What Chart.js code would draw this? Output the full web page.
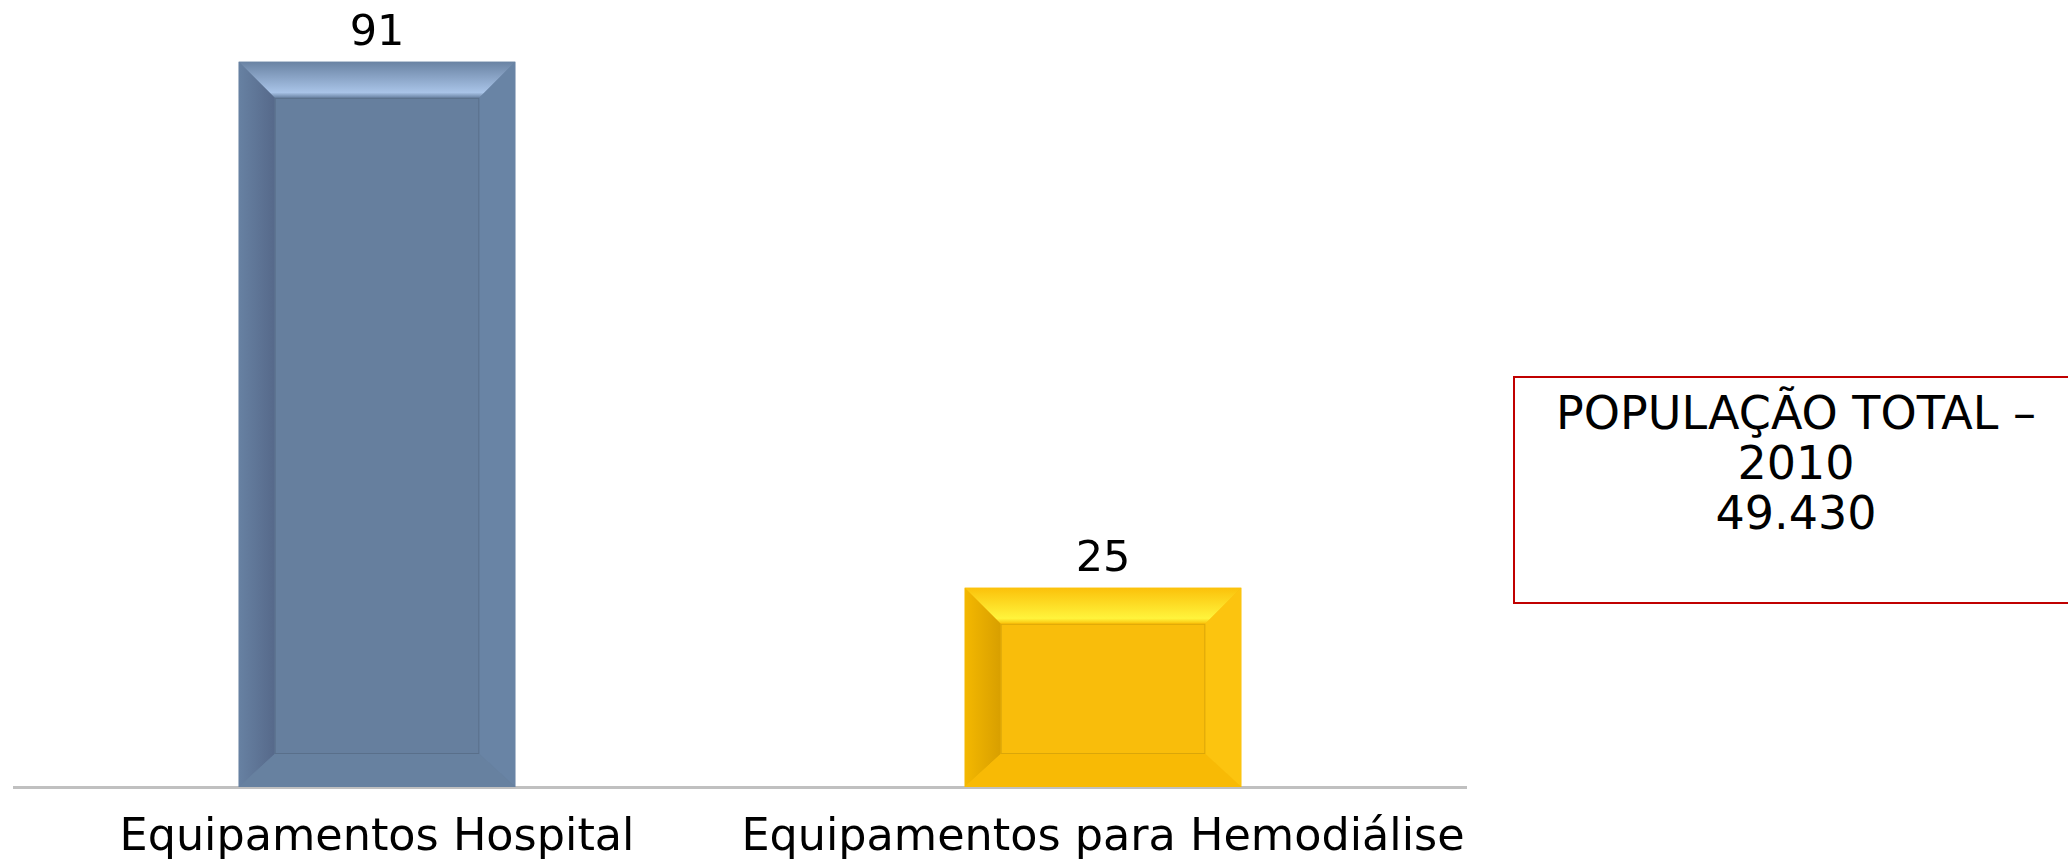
<!DOCTYPE html>
<html>
<head>
<meta charset="utf-8">
<script src="https://cdn.jsdelivr.net/npm/chart.js@4/dist/chart.umd.min.js"></script>
<style>
html, body { margin:0; padding:0; background:#fff; width:2068px; height:860px; overflow:hidden; }
#grafico { position:absolute; left:0; top:0; width:1480px; height:860px; }
#caixa {
	position:absolute; left:1513px; top:376px; width:560px; height:228px;
	border:2px solid #c00000; box-sizing:border-box;
	font-family:"DejaVu Sans", sans-serif; font-size:46px; line-height:50px;
	text-align:center; padding-top:10px; padding-left:6px; color:#000;
}
</style>
</head>
<body>
<div id="grafico"><canvas id="barras"></canvas></div>
<div id="caixa"></div>
<script>
// dados do grafico
var categorias = ["Equipamentos Hospital", "Equipamentos para Hemodiálise"];
var valores = [91, 25];
var textoCaixa = ["POPULAÇÃO TOTAL –", "2010", "49.430"];

// cores: base, topo claro, esquerda, direita, baixo
var paletas = [
	{ base:"#667f9e", topoA:"#6a83a3", topoB:"#a9c4e8", esq:"#56698a", esqB:"#6781a2", dir:"#6984a5", baixo:"#6781a0" },
	{ base:"#f9bd0b", topoA:"#fbc10a", topoB:"#fff43c", esq:"#d89f00", esqB:"#f4b800", dir:"#fcc40f", baixo:"#f8ba05" }
];

document.getElementById("caixa").innerHTML = textoCaixa.join("<br>");

var bisel = {
	id: "bisel",
	afterDatasetsDraw: function(chart){
		var ctx = chart.ctx;
		var meta = chart.getDatasetMeta(0);
		meta.data.forEach(function(bar, i){
			var p = paletas[i];
			var l = bar.x - bar.width/2, r = bar.x + bar.width/2;
			var t = bar.y, b = bar.base;
			var e = 36, eb = 33;
			var il = l + e, ir = r - e, it = t + e, ib = b - eb;
			ctx.save();
			// topo
			var g = ctx.createLinearGradient(0, t, 0, it);
			g.addColorStop(0, p.topoA); g.addColorStop(0.85, p.topoB); g.addColorStop(1, p.topoA);
			ctx.fillStyle = g;
			ctx.beginPath(); ctx.moveTo(l,t); ctx.lineTo(r,t); ctx.lineTo(ir,it); ctx.lineTo(il,it); ctx.closePath(); ctx.fill();
			// esquerda
			var g2 = ctx.createLinearGradient(l, 0, il, 0);
			g2.addColorStop(0, p.esqB); g2.addColorStop(1, p.esq);
			ctx.fillStyle = g2;
			ctx.beginPath(); ctx.moveTo(l,t); ctx.lineTo(il,it); ctx.lineTo(il,ib); ctx.lineTo(l,b); ctx.closePath(); ctx.fill();
			// direita
			ctx.fillStyle = p.dir;
			ctx.beginPath(); ctx.moveTo(r,t); ctx.lineTo(ir,it); ctx.lineTo(ir,ib); ctx.lineTo(r,b); ctx.closePath(); ctx.fill();
			// baixo
			ctx.fillStyle = p.baixo;
			ctx.beginPath(); ctx.moveTo(l,b); ctx.lineTo(il,ib); ctx.lineTo(ir,ib); ctx.lineTo(r,b); ctx.closePath(); ctx.fill();
			// centro
			ctx.fillStyle = p.base;
			ctx.fillRect(il, it, ir-il, ib-it);
			ctx.strokeStyle = "rgba(0,0,0,0.12)"; ctx.lineWidth = 1;
			ctx.strokeRect(il+0.5, it+0.5, ir-il-1, ib-it-1);
			// rotulo
			ctx.fillStyle = "#000";
			ctx.font = "43px 'DejaVu Sans', sans-serif";
			ctx.textAlign = "center"; ctx.textBaseline = "alphabetic";
			ctx.fillText(valores[i], bar.x, t - 17);
			ctx.restore();
		});
	}
};

var grafico = new Chart(document.getElementById("barras"), {
	type: "bar",
	data: {
		labels: categorias,
		datasets: [{
			data: valores,
			backgroundColor: paletas.map(function(p){ return p.base; }),
			borderWidth: 0,
			barPercentage: 0.381,
			categoryPercentage: 1
		}]
	},
	plugins: [bisel],
	options: {
		responsive: true,
		maintainAspectRatio: false,
		animation: false,
		layout: { padding: { top: 22, left: 14, right: 14, bottom: 0 } },
		plugins: { legend: { display: false }, tooltip: { enabled: false } },
		scales: {
			y: { display: false, min: 0, max: 96 },
			x: {
				grid: { display: false, drawTicks: false },
				border: { display: true, color: "#c0c0c0", width: 3 },
				ticks: {
					color: "#000", padding: 25, maxRotation: 0, minRotation: 0, autoSkip: false,
					font: { family: "DejaVu Sans", size: 44.5 }
				},
				afterFit: function(s){ s.height = 73; s.paddingLeft = 0; s.paddingRight = 0; }
			}
		}
	}
});
</script>
</body>
</html>
